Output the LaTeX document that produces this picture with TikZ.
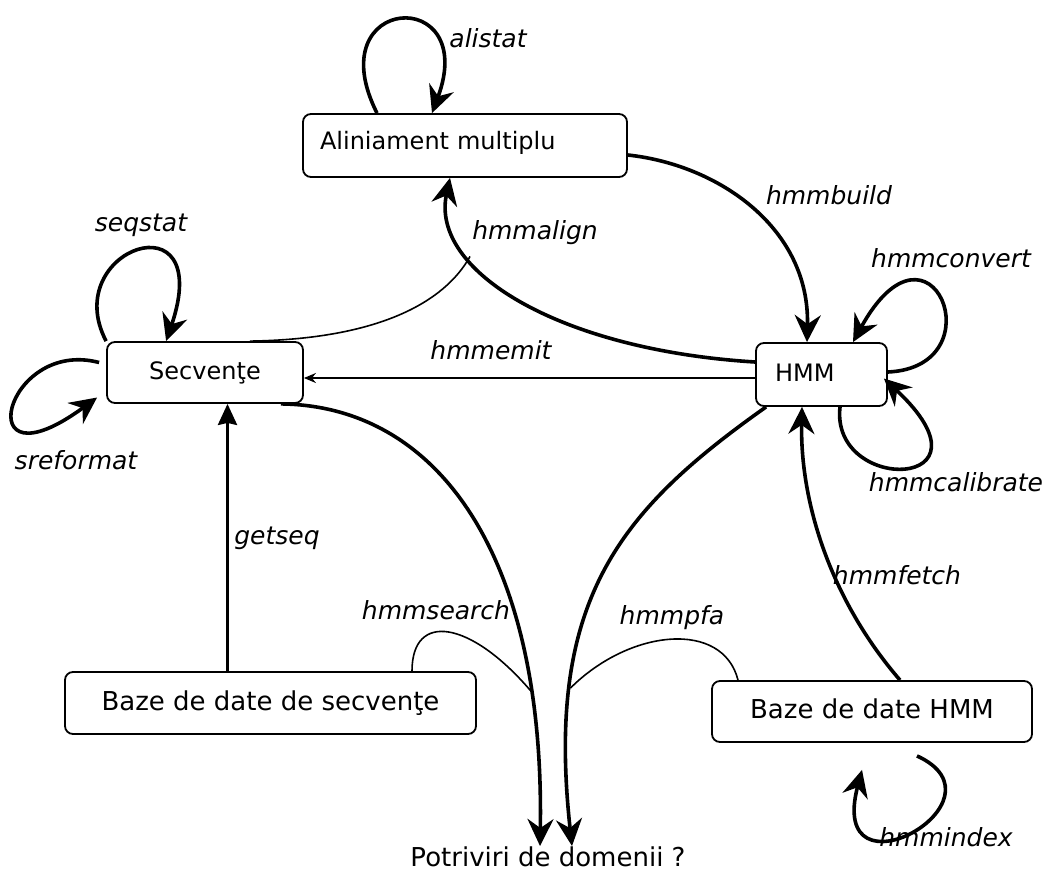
\documentclass[tikz,border=0pt]{standalone}
\usepackage{fontspec}
\setmainfont{DejaVu Sans}
\usetikzlibrary{arrows.meta,calc}
\begin{document}
\begin{tikzpicture}[x=1pt,y=-1pt,
  box/.style={draw, line width=1.8pt, rounded corners=8pt, inner sep=0pt,
    font=\fontsize{24}{28}\selectfont, text height=18pt, text depth=5pt},
  bigtext/.style={font=\fontsize{26}{30}\selectfont, text height=19pt, text depth=5pt},
  lbl/.style={font=\fontsize{25}{30}\selectfont\itshape, inner sep=0pt},
  heavy/.style={line width=3.6pt, -{Stealth[length=27pt,width=26pt,inset=9pt]}},
  mid/.style={line width=3.2pt, -{Stealth[length=21pt,width=19pt,inset=2pt]}},
  light/.style={line width=1.6pt},
]
\path[use as bounding box, fill=white] (0,0) rectangle (1048,875);

% states
\node[box, minimum width=324pt, minimum height=63pt, text width=290pt,
      align=left, text depth=11pt] (aln) at (465,145.5) {Aliniament multiplu};
\node[box, minimum width=196pt, minimum height=61pt] (sec) at (205,372.5) {Secvenţe};
\node[box, minimum width=131pt, minimum height=63pt, text width=93pt,
      align=left] (hmm) at (821.5,374.5) {HMM};
\node[box, bigtext, minimum width=411pt, minimum height=62pt] (bds) at (270.5,703) {Baze de date de secvenţe};
\node[box, bigtext, minimum width=320pt, minimum height=61pt] (bdh) at (872,711.5) {Baze de date HMM};
\node[anchor=north, inner sep=0pt, font=\fontsize{26}{30}\selectfont,
      text height=19pt, text depth=0pt] (pot) at (548,847) {Potriviri de domenii ?};

% program names
\node[lbl] (t-alistat) at (488,38) {alistat};
\node[lbl] (t-build) at (829,195) {hmmbuild};
\node[lbl] (t-convert) at (951,258) {hmmconvert};
\node[lbl] (t-calib) at (956,482) {hmmcalibrate};
\node[lbl] (t-fetch) at (897,575) {hmmfetch};
\node[lbl] (t-index) at (946,837) {hmmindex};
\node[lbl] (t-pfa) at (672,618) {hmmpfa};
\node[lbl] (t-search) at (436,610) {hmmsearch};
\node[lbl] (t-getseq) at (277,538) {getseq};
\node[lbl] (t-emit) at (491,350) {hmmemit};
\node[lbl] (t-align) at (535,233) {hmmalign};
\node[lbl] (t-seqstat) at (141,225) {seqstat};
\node[lbl] (t-sref) at (76,460) {sreformat};

% self loops
\draw[heavy] ($(aln.north)+(-88,0)$) .. controls +(-60,-119) and +(48,-129) .. ($(aln.north)+(-33,0)$);
\draw[heavy] (sec.north west) .. controls +(-48,-92) and +(50,-147) .. ($(sec.north west)+(60,0)$);
\draw[heavy] ($(sec.west)+(-7,-10)$) .. controls +(-95,-25) and +(-130,95) .. ($(sec.west)+(-9,25)$);
\draw[heavy] ($(hmm.east)+(0,-2.5)$) .. controls +(110,-5) and +(78,-142) .. ($(hmm.north)+(31.5,0)$);
\draw[heavy] ($(hmm.south)+(18.5,0)$) .. controls +(-10,88) and +(120,112) .. ($(hmm.east)+(-4,4)$);
\draw[heavy] ($(bdh.south)+(45,13)$) .. controls +(98,45) and +(-36,136) .. ($(bdh.south)+(-10,27)$);

% hmmbuild
\draw[heavy] ($(aln.east)+(0,9.5)$) .. controls +(92,10) and +(3,-113) .. ($(hmm.north)+(-14.5,0)$);

% hmmalign: HMM + sequences -> alignment
\draw[heavy] ($(hmm.west)+(0,-12.5)$) .. controls +(-196,-12) and +(-20,93) .. ($(aln.south)+(-15,0)$) coordinate[pos=0.7] (ja);
\draw[light] ($(sec.north)+(45,0)$) .. controls +(130,-2) and +(-25,45) .. (ja);

% hmmemit
\draw[light, -{Stealth[length=12pt,width=10pt]}] ($(hmm.west)+(0,3.5)$) -- ($(sec.east)+(0,5.5)$);

% getseq
\draw[mid] ($(bds.north)+(-43,0)$) -- ($(sec.south)+(22.5,0)$);

% hmmsearch: sequences + sequence database -> domain hits
\draw[heavy] ($(sec.south east)+(-23,0)$) .. controls +(160,2) and +(5,-286) .. ($(pot.north)+(-8,-1)$) coordinate[pos=0.8] (js);
\draw[light] ($(bds.north)+(141.5,0)$) .. controls +(0,-60) and +(-60,-70) .. (js);

% hmmpfa: HMM + HMM database -> domain hits
\draw[heavy] ($(hmm.south west)+(11,0)$) .. controls +(-147,104) and +(-27,-246) .. ($(pot.north)+(24,-1)$) coordinate[pos=0.75] (jp);
\draw[light] ($(bdh.north)+(-134,0)$) .. controls +(-15,-60) and +(60,-60) .. (jp);

% hmmfetch
\draw[heavy] ($(bdh.north)+(28,0)$) .. controls +(-70,-81) and +(-2,94) .. ($(hmm.south)+(-19.5,0)$);
\end{tikzpicture}
\end{document}
